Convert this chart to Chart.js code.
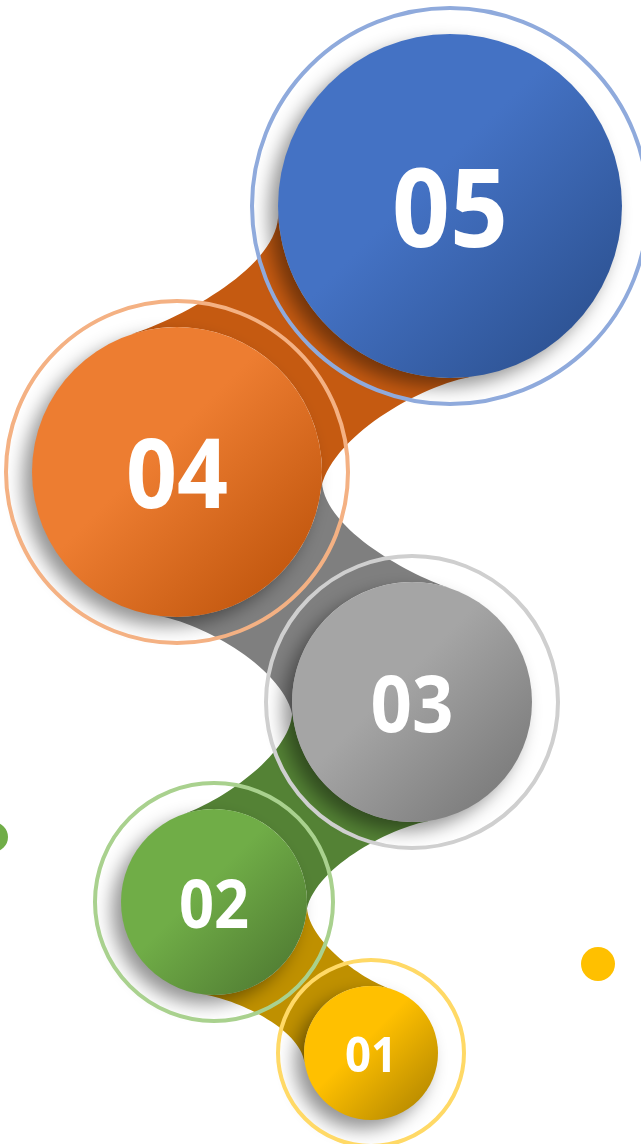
<!DOCTYPE html>
<html>
<head>
<meta charset="utf-8">
<script src="https://cdn.jsdelivr.net/npm/chart.js"></script>
<style>
  html, body { margin: 0; padding: 0; background: #ffffff; }
  #wrap { width: 641px; height: 1144px; position: relative; }
</style>
</head>
<body>
<div id="wrap"><canvas id="steps"></canvas></div>
<script>
// Steps, bottom one first
const steps = ['01', '02', '03', '04', '05'];
const stepX = [371, 214, 412, 177, 450];
const stepY = [1053, 902, 702, 472, 206];
const stepSize = [67, 93, 120, 145, 172];

// Loose decorative dots
const dotX = [-7, 598];
const dotY = [837, 964];
const dotSize = [15, 17];

const lightColors = ['#FFC000', '#70AD47', '#A5A5A5', '#ED7D31', '#4472C4'];
const darkColors = ['#BF9000', '#548235', '#7F7F7F', '#C55A11', '#2F5597'];
const ringColors = ['#FFD966', '#A9D18E', '#CFCFCF', '#F4B183', '#8FAADC'];
const labelSizes = [49, 66, 78, 96, 109];
const dotColors = ['#70AD47', '#FFC000'];
const ringGap = 26;
const DEG = Math.PI / 180;

// Gradient fill, lighter at the top left
function stepFill(c) {
    const chart = c.chart;
    const i = c.dataIndex;
    if (c.type !== 'data' || !chart.chartArea || !c.raw) return lightColors[i] || '#ccc';
    const x = chart.scales.x.getPixelForValue(c.raw.x);
    const y = chart.scales.y.getPixelForValue(c.raw.y);
    const r = c.raw.r;
    const g = chart.ctx.createLinearGradient(x - r * 0.7, y - r * 0.7, x + r * 0.7, y + r * 0.7);
    g.addColorStop(0, lightColors[i]);
    g.addColorStop(0.4, lightColors[i]);
    g.addColorStop(1, darkColors[i]);
    return g;
}

// Concave band between two neighbouring circles (a = upper/bigger one)
function drawBand(ctx, a, b, color) {
    const ar = a.options.radius, br = b.options.radius;
    const ang = Math.atan2(b.y - a.y, b.x - a.x);
    const tw = Math.sign(b.x - a.x) * 6 * DEG;
    const sa = 48 * DEG, sb = 58 * DEG;
    const t1 = ang + sa + tw, t2 = ang - sa + tw;
    const p1 = ang + Math.PI - sb + tw, p2 = ang + Math.PI + sb + tw;
    const A1 = [a.x + ar * Math.cos(t1), a.y + ar * Math.sin(t1)];
    const A2 = [a.x + ar * Math.cos(t2), a.y + ar * Math.sin(t2)];
    const B1 = [b.x + br * Math.cos(p1), b.y + br * Math.sin(p1)];
    const B2 = [b.x + br * Math.cos(p2), b.y + br * Math.sin(p2)];
    const h1 = 0.28 * Math.hypot(B1[0] - A1[0], B1[1] - A1[1]);
    const h2 = 0.28 * Math.hypot(B2[0] - A2[0], B2[1] - A2[1]);

    ctx.beginPath();
    ctx.moveTo(A1[0], A1[1]);
    ctx.bezierCurveTo(
        A1[0] + Math.sin(t1) * h1, A1[1] - Math.cos(t1) * h1,
        B1[0] - Math.sin(p1) * h1, B1[1] + Math.cos(p1) * h1,
        B1[0], B1[1]);
    ctx.arc(b.x, b.y, br, p1, p2, false);
    ctx.bezierCurveTo(
        B2[0] + Math.sin(p2) * h2, B2[1] - Math.cos(p2) * h2,
        A2[0] - Math.sin(t2) * h2, A2[1] + Math.cos(t2) * h2,
        A2[0], A2[1]);
    ctx.arc(a.x, a.y, ar, t2, t1, false);
    ctx.closePath();
    ctx.fillStyle = color;
    ctx.fill();
}

const bandPlugin = {
    id: 'bands',
    beforeDatasetsDraw(chart) {
        const pts = chart.getDatasetMeta(0).data;
        const ctx = chart.ctx;
        ctx.save();
        for (let i = 0; i < pts.length - 1; i++) {
            drawBand(ctx, pts[i + 1], pts[i], darkColors[i]);
        }
        ctx.restore();
    },
    // soft drop shadow under the filled circles only, falling down-left
    beforeDatasetDraw(chart, args) {
        if (args.index !== 0) return;
        const ctx = chart.ctx;
        ctx.save();
        ctx.shadowColor = 'rgba(0,0,0,0.42)';
        ctx.shadowBlur = 18;
        ctx.shadowOffsetX = -9;
        ctx.shadowOffsetY = 9;
    },
    afterDatasetDraw(chart, args) {
        if (args.index !== 0) return;
        chart.ctx.restore();
    },
    afterDatasetsDraw(chart) {
        const pts = chart.getDatasetMeta(0).data;
        const ctx = chart.ctx;
        ctx.save();
        ctx.fillStyle = '#ffffff';
        ctx.textAlign = 'center';
        ctx.textBaseline = 'alphabetic';
        pts.forEach((el, i) => {
            const fs = labelSizes[i];
            ctx.save();
            ctx.translate(el.x, el.y + 2 + fs * 0.357);
            ctx.scale(0.93, 1);
            ctx.font = 'bold ' + fs + 'px "Open Sans", "Noto Sans", sans-serif';
            ctx.fillText(steps[i], 0, 0);
            ctx.restore();
        });
        ctx.restore();
    }
};

function buildChart() {
    const ctx = document.getElementById('steps').getContext('2d');
    new Chart(ctx, {
        type: 'bubble',
        data: {
            labels: steps,
            datasets: [
                {
                    label: 'Steps',
                    data: steps.map((s, i) => ({ x: stepX[i], y: stepY[i], r: stepSize[i] })),
                    backgroundColor: stepFill,
                    borderWidth: 0,
                    clip: false,
                    order: 2
                },
                {
                    label: 'Rings',
                    data: steps.map((s, i) => ({ x: stepX[i], y: stepY[i], r: stepSize[i] + ringGap })),
                    backgroundColor: 'rgba(0,0,0,0)',
                    borderColor: ringColors,
                    borderWidth: 4,
                    clip: false,
                    order: 1
                },
                {
                    label: 'Dots',
                    data: dotX.map((x, i) => ({ x: x, y: dotY[i], r: dotSize[i] })),
                    backgroundColor: dotColors,
                    borderWidth: 0,
                    clip: false,
                    order: 0
                }
            ]
        },
        options: {
            responsive: true,
            maintainAspectRatio: false,
            animation: false,
            events: [],
            layout: { padding: 0, autoPadding: false },
            scales: {
                x: { type: 'linear', min: 0, max: 641, display: false },
                y: { type: 'linear', min: 0, max: 1144, reverse: true, display: false }
            },
            plugins: {
                legend: { display: false },
                tooltip: { enabled: false }
            }
        },
        plugins: [bandPlugin]
    });
}

document.addEventListener('DOMContentLoaded', () => {
    buildChart();
});
</script>
</body>
</html>
